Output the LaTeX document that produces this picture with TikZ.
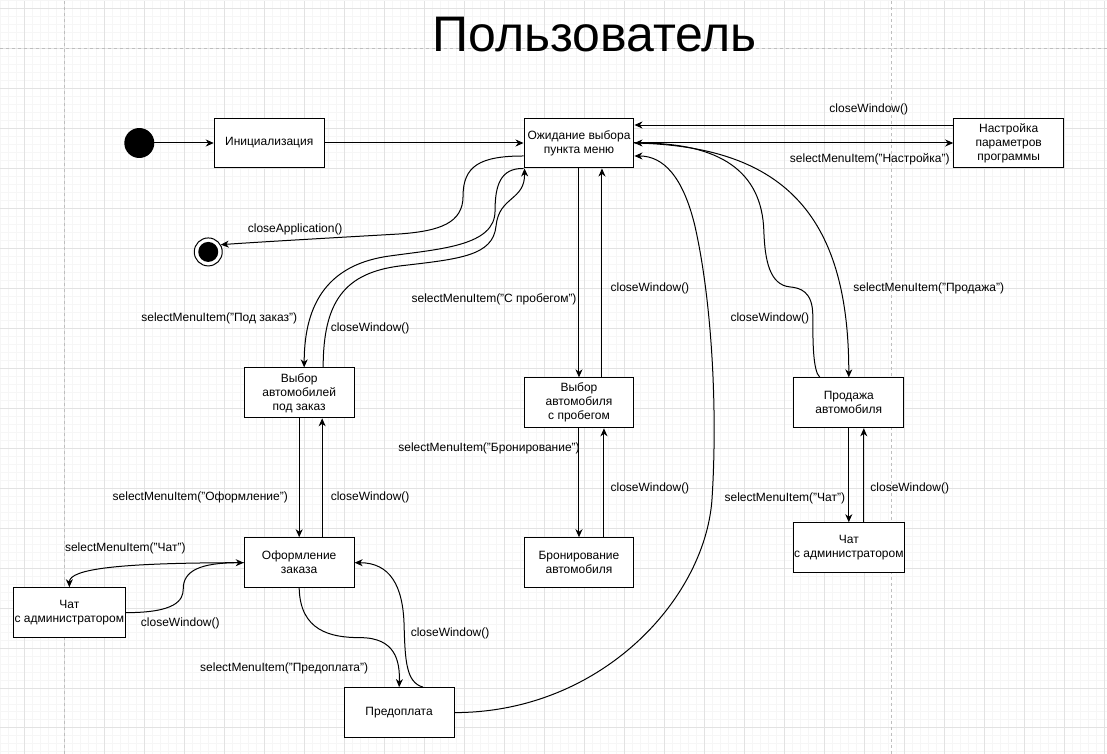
\documentclass[tikz,border=0pt]{standalone}
\usepackage{fontspec}
\setmainfont{Liberation Sans}
\usepackage{tikz}
\usetikzlibrary{arrows.meta,positioning}
\definecolor{GridMinor}{RGB}{246,246,246}
\definecolor{GridMajor}{RGB}{226,226,226}
\definecolor{PageLine}{RGB}{190,190,190}

\begin{document}
\begin{tikzpicture}[
  x=1pt, y=-1pt,
  state/.style={
    rectangle, draw=black, fill=white, line width=1pt,
    minimum width=110pt, minimum height=50pt, inner sep=1pt,
    align=center, font=\fontsize{12}{14}\selectfont
  },
  startpt/.style={circle, fill=black, minimum size=30pt, inner sep=0pt},
  endpt/.style={circle, draw=black, fill=white, line width=1pt, minimum size=28pt, inner sep=0pt},
  lbl/.style={inner sep=0pt, font=\fontsize{12}{14}\selectfont},
  arr/.style={-{Stealth[length=8pt,width=7pt,inset=2.5pt]}, line width=1pt}
]

% --- Background grid
\fill[white] (0,0) rectangle (1107,753);
\foreach \gx in {0.3,8.3,...,1107} \draw[GridMinor, line width=0.8pt] (\gx,0) -- (\gx,753);
\foreach \gy in {-0.7,7.3,...,753} \draw[GridMinor, line width=0.8pt] (0,\gy) -- (1107,\gy);
\foreach \gx in {24.3,64.3,...,1107} \draw[GridMajor, line width=0.8pt] (\gx,0) -- (\gx,753);
\foreach \gy in {7.3,47.3,...,753} \draw[GridMajor, line width=0.8pt] (0,\gy) -- (1107,\gy);
\draw[PageLine, dashed, line width=0.8pt] (64.3,0) -- (64.3,753);
\draw[PageLine, dashed, line width=0.8pt] (891.7,0) -- (891.7,753);
\draw[PageLine, dashed, line width=0.8pt] (0,47.3) -- (1107,47.3);

% --- Title
\node[font=\fontsize{50}{60}\selectfont] (title) at (595,33) {Пользователь};

% --- States
\node[startpt] (start) at (139,142) {};
\node[state] (init)     at (269,142)  {Инициализация};
\node[state] (wait)     at (579,142)  {Ожидание выбора\\пункта меню};
\node[state] (settings) at (1009,142) {Настройка\\параметров\\программы};
\node[endpt] (stop)     at (208,251)  {};
\fill[black] (stop) circle (10);
\node[state] (orderSel) at (299,392)  {Выбор\\автомобилей\\под заказ};
\node[state] (usedSel)  at (579,402)  {Выбор\\автомобиля\\с пробегом};
\node[state] (booking)  at (579,562)  {Бронирование\\автомобиля};
\node[state] (sale)     at (849,402)  {Продажа\\автомобиля};
\node[state] (chatR)    at (849,547)  {Чат\\с администратором};
\node[state] (checkout) at (299,562)  {Оформление\\заказа};
\node[state] (chatL)    at (69,612)   {Чат\\с администратором};
\node[state] (prepay)   at (399,712)  {Предоплата};

% --- Labels
\node[lbl] (lblApp)        at (295,228) {closeApplication()};
\node[lbl] (lblSetClose)   at (869,108) {closeWindow()};
\node[lbl] (lblSetSel)     at (870,158) {selectMenuItem("Настройка")};
\node[lbl] (lblOrderSel)   at (219,318) {selectMenuItem("Под заказ")};
\node[lbl] (lblOrderClose) at (370,328) {closeWindow()};
\node[lbl] (lblUsedSel)    at (494,298) {selectMenuItem("С пробегом")};
\node[lbl] (lblUsedClose)  at (650,288) {closeWindow()};
\node[lbl] (lblSaleClose)  at (770,318) {closeWindow()};
\node[lbl] (lblSaleSel)    at (929,288) {selectMenuItem("Продажа")};
\node[lbl] (lblBookSel)    at (489,448) {selectMenuItem("Бронирование")};
\node[lbl] (lblBookClose)  at (650,488) {closeWindow()};
\node[lbl] (lblCheckSel)   at (200,497) {selectMenuItem("Оформление")};
\node[lbl] (lblCheckClose) at (370,497) {closeWindow()};
\node[lbl] (lblChatSel)    at (785,498) {selectMenuItem("Чат")};
\node[lbl] (lblChatClose)  at (910,488) {closeWindow()};
\node[lbl] (lblChatLSel)   at (125,548) {selectMenuItem("Чат")};
\node[lbl] (lblChatLClose) at (180,623) {closeWindow()};
\node[lbl] (lblPreSel)     at (284,668) {selectMenuItem("Предоплата")};
\node[lbl] (lblPreClose)   at (450,633) {closeWindow()};

% --- Transitions
\draw[arr] (start) -- (init);
\draw[arr] (init) -- (wait);
\draw[arr] ([yshift=18pt]settings.west) -- ([yshift=18pt]wait.east);
\draw[arr] (wait.east) -- (settings.west);
\draw[arr] ([yshift=-13pt]wait.west) .. controls (480,155) and (463,165) .. (463,195)
  .. controls (463,222) and (440,230) .. (400,233)
  .. controls (330,237) and (260,241) .. (stop.30);
\draw[arr] (wait.south west) .. controls (500,167) and (495,185) .. (495,210)
  .. controls (495,245) and (440,248) .. (390,255)
  .. controls (330,263) and (304,300) .. ([xshift=5pt]orderSel.north);
\draw[arr] ([xshift=24pt]orderSel.north) .. controls (323,300) and (345,272) .. (400,265)
  .. controls (460,258) and (493,255) .. (496,225)
  .. controls (499,195) and (525,200) .. ([xshift=1pt]wait.south west);
\draw[arr] (wait.south) -- (usedSel.north);
\draw[arr] ([xshift=23pt]usedSel.north) -- ([xshift=23pt]wait.south);
\draw[arr] (usedSel.south) -- (booking.north);
\draw[arr] ([xshift=25pt]booking.north) -- ([xshift=25pt]usedSel.south);
\draw[arr] (orderSel.south) -- (checkout.north);
\draw[arr] ([xshift=23pt]checkout.north) -- ([xshift=23pt]orderSel.south);
\draw[arr] (checkout.west) .. controls (120,562) and (69,568) .. (chatL.north);
\draw[arr] (chatL.east) .. controls (175,612) and (183,600) .. (183,588)
  .. controls (183,570) and (200,562) .. (checkout.west);
\draw[arr] (checkout.south) .. controls (300,630) and (330,637) .. (360,637)
  .. controls (395,637) and (400,660) .. (prepay.north);
\draw[arr] ([xshift=24pt]prepay.north) .. controls (406,682) and (405,660) .. (404,625)
  .. controls (403,585) and (390,562) .. (checkout.east);
\draw[arr] (prepay.east) .. controls (600,712) and (704,600) .. (712,500)
  .. controls (718,410) and (712,300) .. (695,225)
  .. controls (683,175) and (663,155) .. ([yshift=-13pt]wait.east);
\draw[arr] (wait.east) .. controls (780,145) and (849,210) .. (sale.north);
\draw[arr] ([xshift=-29pt]sale.north) .. controls (813,370) and (813,340) .. (813,315)
  .. controls (813,290) and (800,287) .. (790,286)
  .. controls (770,284) and (765,260) .. (764,230)
  .. controls (762,170) and (720,142) .. (wait.east);
\draw[arr] (sale.south) -- (chatR.north);
\draw[arr] ([xshift=15pt]chatR.north) -- ([xshift=15pt]sale.south);

\end{tikzpicture}
\end{document}
